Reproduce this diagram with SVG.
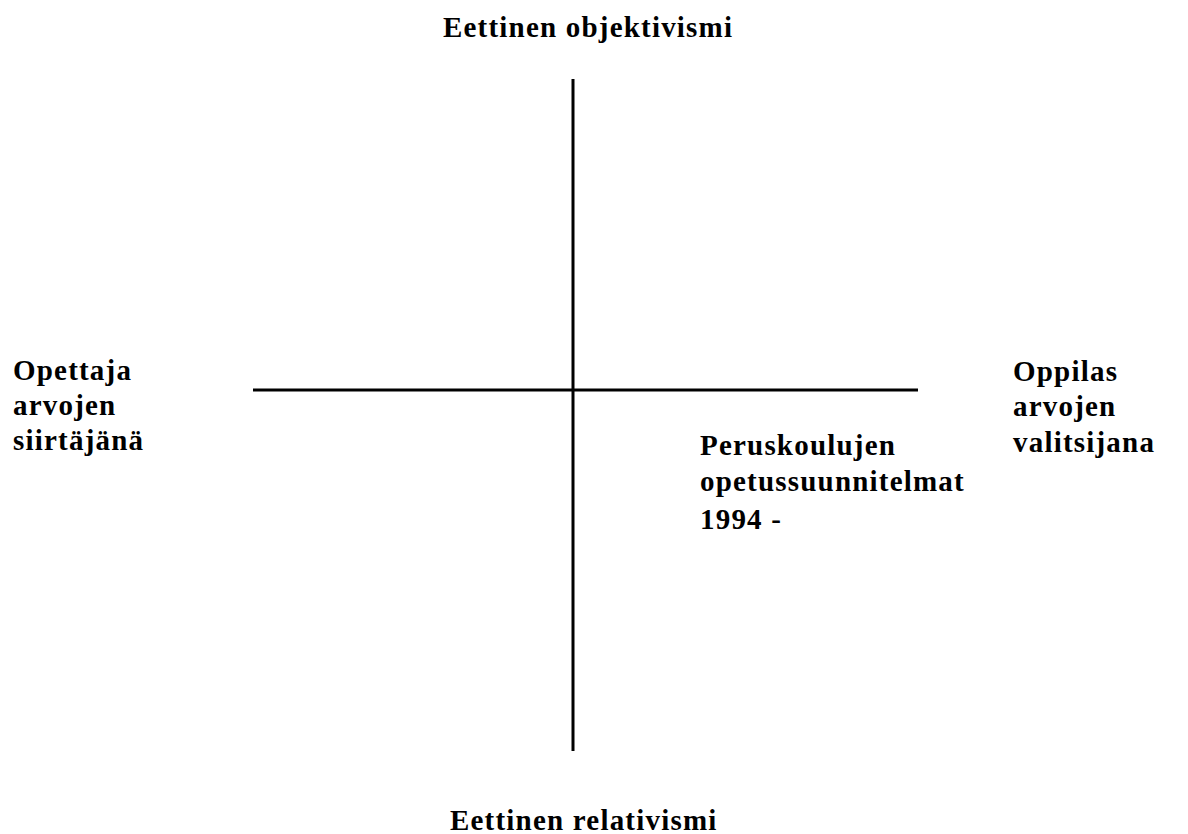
<svg xmlns="http://www.w3.org/2000/svg" width="1188" height="834" viewBox="0 0 1188 834">
<style>
text{font-family:"Liberation Serif","Times New Roman",serif;font-weight:bold;font-size:29px;fill:#000;letter-spacing:1.2px}
.ax{stroke:#000;stroke-width:3;fill:none}
</style>
<rect width="1188" height="834" fill="#fff"/>
<g id="connectors">
<line class="ax" x1="573" y1="79" x2="573" y2="751"/>
<line class="ax" x1="253" y1="390" x2="918" y2="390"/>
</g>
<g id="top"><text x="443" y="37">Eettinen objektivismi</text></g>
<g id="bottom"><text x="450" y="830">Eettinen relativismi</text></g>
<g id="left"><text x="13" y="380">Opettaja</text><text x="13" y="415">arvojen</text><text x="13" y="450">siirtäjänä</text></g>
<g id="right"><text x="1013" y="381">Oppilas</text><text x="1013" y="416">arvojen</text><text x="1013" y="452">valitsijana</text></g>
<g id="center"><text x="700" y="455">Peruskoulujen</text><text x="700" y="491">opetussuunnitelmat</text><text x="700" y="529">1994 -</text></g>
</svg>
